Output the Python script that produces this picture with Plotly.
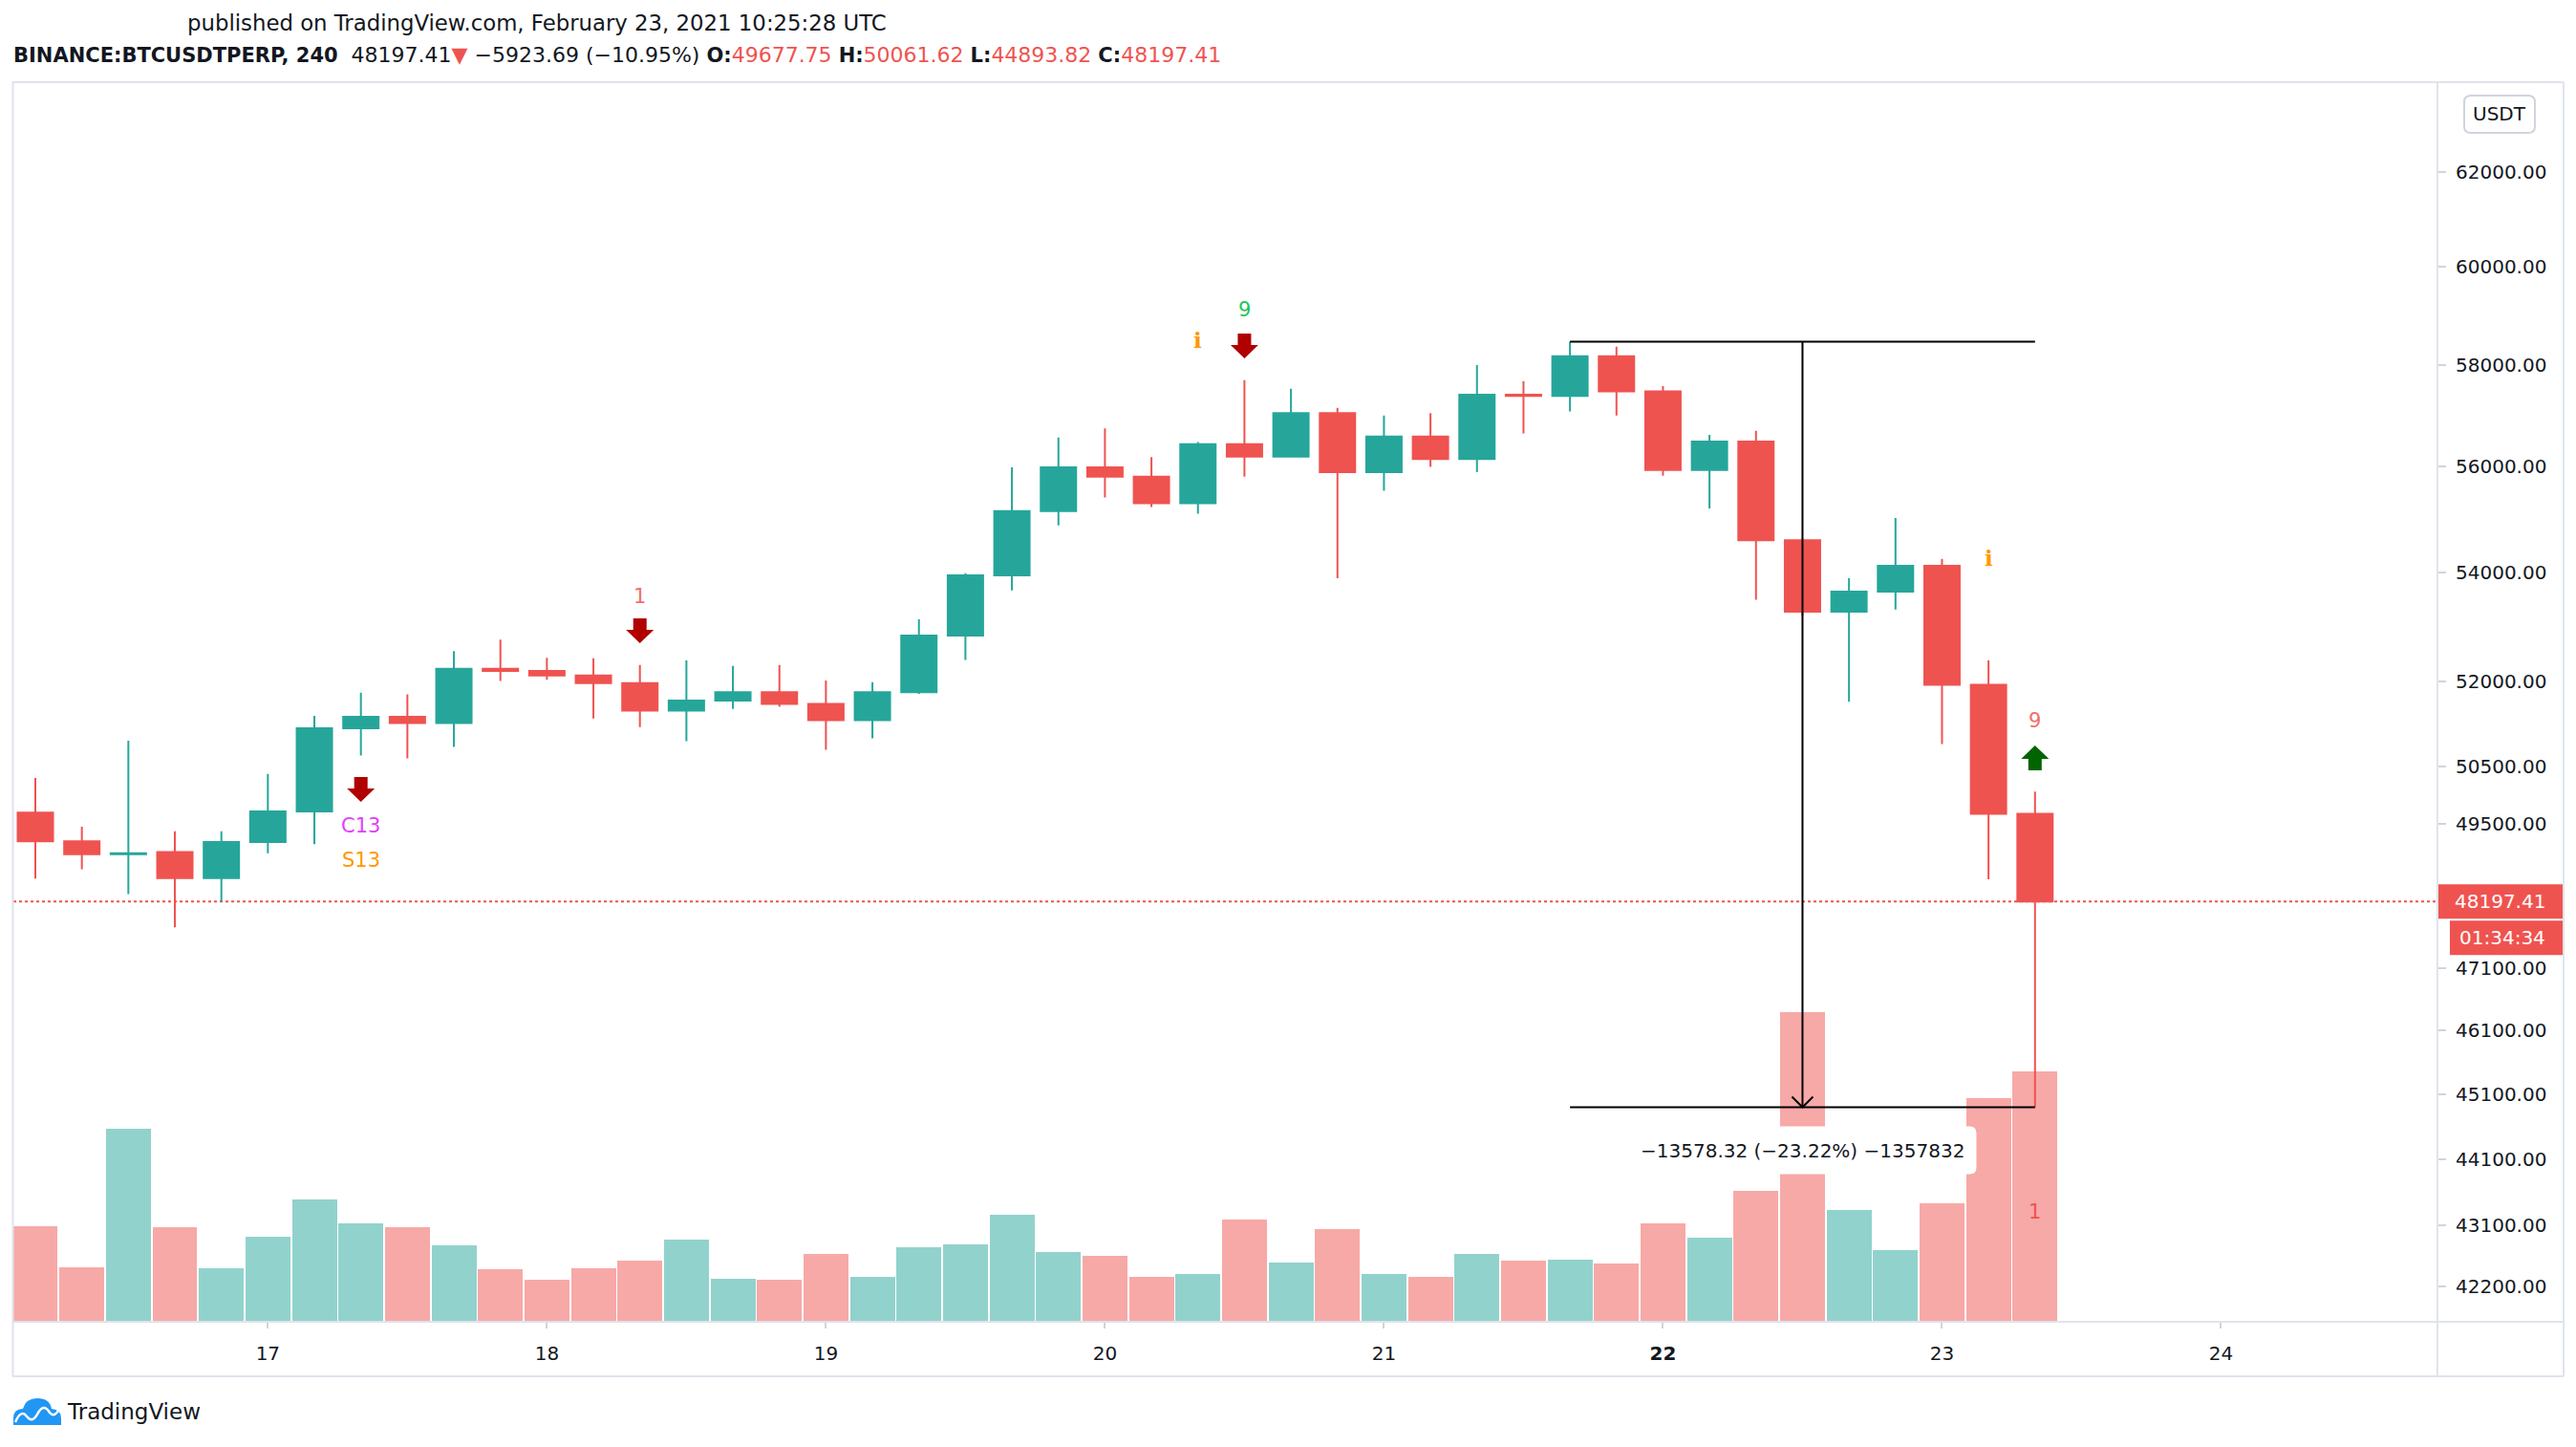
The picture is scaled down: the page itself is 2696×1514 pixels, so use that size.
import math
from datetime import datetime, timedelta
import plotly.graph_objects as go

# ---------------- data ----------------
start = datetime(2021, 2, 16, 4, 0)
n_bars = 44
times = [(start + timedelta(hours=4 * i)).strftime('%Y-%m-%d %H:%M') for i in range(n_bars)]

opens = [49700, 49210, 48990, 49030, 48590, 49200, 49720, 51170, 51370, 51260,
         52230, 52190, 52110, 51970, 51480, 51660, 51810, 51600, 51310, 51810,
         52830, 53940, 55150, 55990, 55810, 55300, 56440, 56200, 57050, 55900,
         56590, 56150, 57410, 57390, 58180, 57480, 55940, 56490, 54600, 53270,
         53640, 54121.10, 51940, 49677.75]
highs = [50300, 49460, 50950, 49380, 49380, 50370, 51390, 51800, 51770, 52550,
         52760, 52430, 52420, 52300, 52380, 52280, 52300, 52020, 51990, 53130,
         53980, 55990, 56570, 56750, 56190, 56480, 57700, 57530, 57150, 57000,
         57050, 58000, 57680, 58472.14, 58370, 57580, 56620, 56700, 54640, 53890,
         55020, 54250, 52380, 50061.62]
lows = [48580, 48740, 48320, 47770, 48200, 49010, 49160, 50690, 50640, 50840,
        52010, 52030, 51340, 51190, 50940, 51510, 51550, 50790, 50990, 51780,
        52390, 53660, 54880, 55410, 55230, 55100, 55810, 56180, 53890, 55540,
        56000, 55900, 56650, 57080, 57000, 55830, 55200, 53490, 53200, 51640,
        53310, 50890, 48570, 44893.82]
closes = [49210, 48990, 49010, 48590, 49200, 49720, 51170, 51370, 51260, 52230,
          52190, 52110, 51970, 51480, 51660, 51810, 51600, 51310, 51810, 52830,
          53940, 55150, 55990, 55810, 55300, 56440, 56200, 57050, 55900, 56590,
          56150, 57410, 57390, 58180, 57480, 55940, 56490, 54600, 53270, 53640,
          54121.10, 51940, 49677.75, 48197.41]
volumes = [50000, 28500, 101000, 49500, 28000, 44500, 64000, 51500, 49500, 40000,
           27500, 22000, 28000, 32000, 43000, 22500, 22000, 35500, 23500, 39000,
           40500, 56000, 36500, 34500, 23500, 25000, 53500, 31000, 48500, 25000,
           23500, 35500, 32000, 32500, 30500, 51500, 44000, 68500, 162000, 58500,
           37500, 62000, 117000, 131000]

price_ticks = [62000, 60000, 58000, 56000, 54000, 52000, 50500, 49500,
               47100, 46100, 45100, 44100, 43100, 42200]
price_tick_text = ["%.2f" % v for v in price_ticks]
day_ticks = ['2021-02-%02d' % d for d in range(17, 25)]
day_tick_text = ['17', '18', '19', '20', '21', '<b>22</b>', '23', '24']

price_range = [41690, 63930]
volume_max = 648000

last_price = 48197.41
countdown = "01:34:34"
measure_top = 58472.14
measure_bottom = 44893.82
measure_from, measure_mid, measure_to = 33, 38, 43
measure_text = "\u221213578.32 (\u221223.22%) \u22121357832"

# indicator labels: (bar index, price, text, colour)
text_labels = [
    (13, 53551, "1", "#f26e6b"),
    (7, 49476, "C13", "#e040fb"),
    (7, 48891, "S13", "#ff9800"),
    (26, 59123, "9", "#22c55e"),
    (43, 51303, "9", "#f26e6b"),
    (43, 43301, "1", "#ef5350"),
]
info_labels = [(25, 58502), (42, 54263)]
down_arrows = [(13, 52693), (7, 49886), (26, 58137)]
up_arrows = [(43, 50865)]

header1 = "published on TradingView.com, February 23, 2021 10:25:28 UTC"
RED = "#ef5350"
GREEN = "#26a69a"
B = "<span style='font-size:21px'><b>%s</b></span>"
R = "<span style='color:%s'>%%s</span>" % RED
header2 = (B % "BINANCE:BTCUSDTPERP, 240" + "  48197.41" + R % "\u25bc" + " \u22125923.69 (\u221210.95%) "
           + B % "O:" + R % "49677.75" + " " + B % "H:" + R % "50061.62" + " "
           + B % "L:" + R % "44893.82" + " " + B % "C:" + R % "48197.41")

# ---------------- layout geometry ----------------
W, H = 2696, 1514
L_PX, R_PX, T_PX, B_PX = 14, 2551, 87, 1383
PW, PH = R_PX - L_PX, B_PX - T_PX
BORDER = "#e0e3eb"
TXT = "#131722"


def px_x(px):
    return (px - L_PX) / PW


def px_y(py):
    return (B_PX - py) / PH


x_start = start - timedelta(hours=4 * 0.4726)
x_end = start + timedelta(hours=4 * 51.654)

fig = go.Figure()

vol_colors = ["rgba(38,166,154,0.5)" if c >= o else "rgba(239,83,80,0.5)" for o, c in zip(opens, closes)]
fig.add_trace(go.Bar(x=times, y=volumes, marker=dict(color=vol_colors, line=dict(width=0)),
                     width=4 * 3600 * 1000 * 0.965, yaxis='y', hoverinfo='skip'))

fig.add_trace(go.Candlestick(
    x=times, open=opens, high=highs, low=lows, close=closes, yaxis='y2',
    increasing=dict(line=dict(color=GREEN, width=2), fillcolor=GREEN),
    decreasing=dict(line=dict(color=RED, width=2), fillcolor=RED),
    whiskerwidth=0, hoverinfo='skip'))

shapes = []
annotations = []


def rounded(x0, x1, y0, y1, r):
    return ("M %g,%g L %g,%g Q %g,%g %g,%g L %g,%g Q %g,%g %g,%g L %g,%g Q %g,%g %g,%g L %g,%g Q %g,%g %g,%g Z" % (
        x0 + r, y1, x1 - r, y1, x1, y1, x1, y1 - r, x1, y0 + r, x1, y0, x1 - r, y0,
        x0 + r, y0, x0, y0, x0, y0 + r, x0, y1 - r, x0, y1, x0 + r, y1))


def rect_path(x0, x1, y0, y1):
    return "M %g,%g L %g,%g L %g,%g L %g,%g Z" % (x0, y0, x1, y0, x1, y1, x0, y1)


# last price dotted line
shapes.append(dict(type='line', xref='paper', yref='y2', x0=0, x1=1, y0=last_price, y1=last_price,
                   line=dict(color=RED, width=2, dash='dot'), layer='below'))

# measure tool
for yv in (measure_top, measure_bottom):
    shapes.append(dict(type='line', xref='x', yref='y2', x0=times[measure_from], x1=times[measure_to],
                       y0=yv, y1=yv, line=dict(color='black', width=2), layer='above'))
shapes.append(dict(type='line', xref='x', yref='y2', x0=times[measure_mid], x1=times[measure_mid],
                   y0=measure_top, y1=measure_bottom, line=dict(color='black', width=2), layer='above'))
shapes.append(dict(type='path', xref='x', yref='y2', xsizemode='pixel', ysizemode='pixel',
                   xanchor=times[measure_mid], yanchor=measure_bottom,
                   path="M -11,11 L 0,0 L 11,11", line=dict(color='black', width=2), layer='above'))
shapes.append(dict(type='path', xref='x', yref='y2', xsizemode='pixel', ysizemode='pixel',
                   xanchor=times[measure_mid], yanchor=measure_bottom, path=rounded(-182, 182, -70, -20, 7),
                   fillcolor='white', line=dict(width=0), layer='above'))
annotations.append(dict(x=times[measure_mid], y=math.log10(measure_bottom), xref='x', yref='y2',
                        xanchor='center', yanchor='middle',
                        yshift=-45, text=measure_text, showarrow=False,
                        font=dict(size=20, color=TXT, family='DejaVu Sans')))

# arrows
DOWN = "M -14.5,14 L 0,0 L 14.5,14 L 7,14 L 7,26 L -7,26 L -7,14 Z"
UP = "M -14.5,-14 L 0,0 L 14.5,-14 L 7,-14 L 7,-26 L -7,-26 L -7,-14 Z"
for i, p in down_arrows:
    shapes.append(dict(type='path', xref='x', yref='y2', xsizemode='pixel', ysizemode='pixel',
                       xanchor=times[i], yanchor=p, path=DOWN, fillcolor='#b00000',
                       line=dict(width=0), layer='above'))
for i, p in up_arrows:
    shapes.append(dict(type='path', xref='x', yref='y2', xsizemode='pixel', ysizemode='pixel',
                       xanchor=times[i], yanchor=p, path=UP, fillcolor='#006400',
                       line=dict(width=0), layer='above'))

for i, p, t, c in text_labels:
    annotations.append(dict(x=times[i], y=math.log10(p), xref='x', yref='y2', text=t, showarrow=False,
                            xanchor='center', yanchor='middle',
                            font=dict(size=21, color=c, family='DejaVu Sans')))
for i, p in info_labels:
    annotations.append(dict(x=times[i], y=math.log10(p), xref='x', yref='y2', text='<b>i</b>',
                            xanchor='center', yanchor='middle',
                            showarrow=False, font=dict(size=23, color='#ff9800', family='DejaVu Serif')))

# price axis label boxes
shapes.append(dict(type='path', xref='paper', yref='y2', xsizemode='pixel', ysizemode='pixel',
                   xanchor=px_x(2550), yanchor=last_price, path=rect_path(0, 133, -18, 18),
                   fillcolor=RED, line=dict(width=0), layer='above'))
shapes.append(dict(type='path', xref='paper', yref='y2', xsizemode='pixel', ysizemode='pixel',
                   xanchor=px_x(2550), yanchor=last_price, path=rect_path(14, 133, -20, -56),
                   fillcolor=RED, line=dict(width=0), layer='above'))
annotations.append(dict(x=px_x(2616), y=math.log10(last_price), xref='paper', yref='y2',
                        xanchor='center', yanchor='middle',
                        text="%.2f" % last_price, showarrow=False,
                        font=dict(size=20, color='white', family='DejaVu Sans')))
annotations.append(dict(x=px_x(2619), y=math.log10(last_price), xref='paper', yref='y2', yshift=-38,
                        xanchor='center', yanchor='middle',
                        text=countdown, showarrow=False,
                        font=dict(size=20, color='white', family='DejaVu Sans')))

# USDT box
shapes.append(dict(type='path', xref='paper', yref='paper', xsizemode='pixel', ysizemode='pixel',
                   xanchor=px_x(2579), yanchor=px_y(139), path=rounded(0, 74, 0, 39, 7),
                   fillcolor='white', line=dict(color='#d1d4dc', width=2), layer='above'))
annotations.append(dict(x=px_x(2616), y=px_y(119.5), xref='paper', yref='paper', text='USDT',
                        xanchor='center', yanchor='middle',
                        showarrow=False, font=dict(size=20, color=TXT, family='DejaVu Sans')))


# borders
def hline(y, xa, xb):
    shapes.append(dict(type='line', xref='paper', yref='paper', x0=px_x(xa), x1=px_x(xb),
                       y0=px_y(y), y1=px_y(y), line=dict(color=BORDER, width=2), layer='above'))


def vline(x, ya, yb):
    shapes.append(dict(type='line', xref='paper', yref='paper', x0=px_x(x), x1=px_x(x),
                       y0=px_y(ya), y1=px_y(yb), line=dict(color=BORDER, width=2), layer='above'))


hline(86, 13, 2683)
hline(1383, 13, 2683)
hline(1440, 13, 2683)
vline(13.5, 86, 1440)
vline(2551, 86, 1440)
vline(2683, 86, 1440)

# header
annotations.append(dict(x=px_x(194), y=px_y(24), xref='paper', yref='paper', xanchor='left',
                        yanchor='middle', text=header1, showarrow=False,
                        font=dict(size=22.8, color=TXT, family='DejaVu Sans')))
annotations.append(dict(x=px_x(12), y=px_y(58), xref='paper', yref='paper', xanchor='left',
                        yanchor='middle', text=header2, showarrow=False,
                        font=dict(size=22.0, color=TXT, family='DejaVu Sans')))


# TradingView logo
def P(x, y):
    return "%f,%f" % (px_x(x), px_y(y))


cloud = ("M " + P(14, 1491) + " L " + P(14, 1484) + " Q " + P(14, 1474) + " " + P(24, 1474) +
         " Q " + P(27, 1463) + " " + P(39, 1463) + " Q " + P(52, 1463) + " " + P(54, 1474) +
         " Q " + P(64, 1475) + " " + P(64, 1484) + " L " + P(64, 1491) + " Z")
shapes.append(dict(type='path', xref='paper', yref='paper', path=cloud, fillcolor='#2196f3',
                   line=dict(width=0)))
wave = ("M " + P(16, 1488) + " Q " + P(22, 1474) + " " + P(28, 1482) + " Q " + P(34, 1490) + " " +
        P(40, 1478) + " Q " + P(46, 1468) + " " + P(52, 1478) + " Q " + P(57, 1484) + " " + P(62, 1474))
shapes.append(dict(type='path', xref='paper', yref='paper', path=wave,
                   line=dict(color='white', width=2.5)))
annotations.append(dict(x=px_x(68), y=px_y(1477), xref='paper', yref='paper', xanchor='left',
                        yanchor='middle', text='TradingView', showarrow=False,
                        font=dict(size=23, color=TXT, family='DejaVu Sans')))

fig.update_layout(
    width=W, height=H,
    margin=dict(l=L_PX, r=W - R_PX, t=T_PX, b=H - B_PX, pad=0),
    paper_bgcolor='white', plot_bgcolor='white', showlegend=False,
    font=dict(family='DejaVu Sans', size=20, color=TXT),
    boxgap=0.24, boxgroupgap=0, bargap=0,
    xaxis=dict(type='date', range=[x_start, x_end], rangeslider=dict(visible=False),
               showgrid=False, zeroline=False, showline=False, tickmode='array',
               tickvals=day_ticks, ticktext=day_tick_text, ticks='outside', ticklen=6,
               tickwidth=2, tickcolor='#d1d4dc', tickfont=dict(size=20, color=TXT),
               ticklabelstandoff=9, automargin=False, fixedrange=True),
    yaxis=dict(range=[0, volume_max], visible=False, showgrid=False, fixedrange=True),
    yaxis2=dict(type='log', overlaying='y', side='right', anchor='x',
                range=[math.log10(price_range[0]), math.log10(price_range[1])],
                tickmode='array', tickvals=price_ticks, ticktext=price_tick_text,
                showgrid=False, zeroline=False, showline=False, ticks='outside', ticklen=8,
                tickwidth=2, tickcolor='#d1d4dc', ticklabelstandoff=6,
                tickfont=dict(size=20, color=TXT), automargin=False, fixedrange=True),
    shapes=shapes, annotations=annotations,
)

fig.write_html("out.html", config={'displayModeBar': False},
               post_script="document.body.style.margin='0';document.body.style.overflow='hidden';")
